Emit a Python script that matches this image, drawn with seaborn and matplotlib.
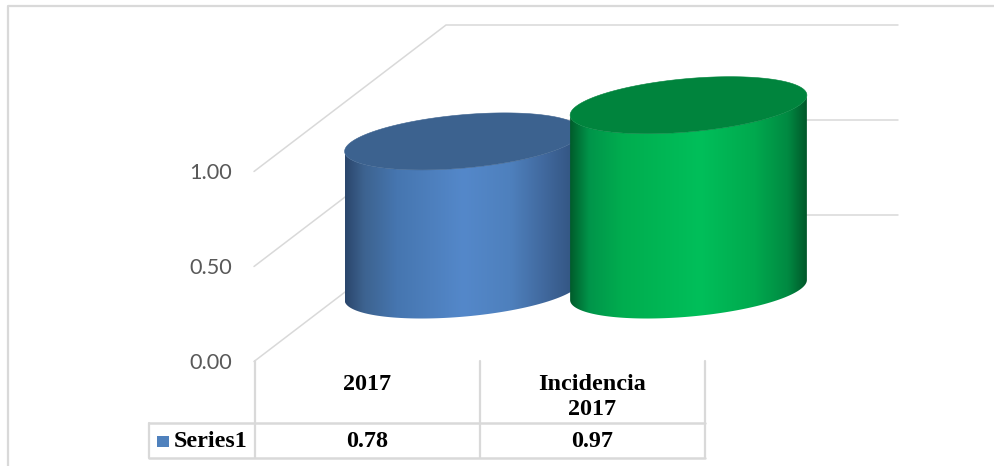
import numpy as np
import pandas as pd
import seaborn as sns
import matplotlib
matplotlib.use("Agg")
import matplotlib.pyplot as plt
from matplotlib.colors import LinearSegmentedColormap
from matplotlib.patches import Polygon

categories = ["2017", "Incidencia\n2017"]
values = [0.78, 0.97]
axis_ticks = [0.0, 0.5, 1.0]
series_name = "Series1"

W, H = 995, 466
GRID = "#d9d9d9"
TOPS = ["#3c628f", "#00843d"]
SERIES_BLUE = "#4f81bd"
ramps = [
    [(0, "#2a466c"), (0.08, "#3d6390"), (0.22, "#4676b0"), (0.5, "#5488ca"),
     (0.7, "#4e80bd"), (0.84, "#41699e"), (1, "#2f4f7a")],
    [(0, "#005c2b"), (0.08, "#00954a"), (0.22, "#00ad4f"), (0.55, "#00bf5a"),
     (0.78, "#00a94e"), (0.92, "#008a42"), (1, "#00582a")],
]

sns.set_theme(style="white")
df = pd.DataFrame({"cat": categories, "val": values})

fig = plt.figure(figsize=(W / 100, H / 100), dpi=100, facecolor="white")

# flat pixel layer for the walls and the data table
bg = fig.add_axes([0, 0, 1, 1], zorder=1)
bg.set_xlim(0, W)
bg.set_ylim(H, 0)
bg.axis("off")

# chart frame
bg.plot([8, 8, W], [H, 6, 6], color=GRID, lw=1.6, solid_capstyle="butt")

# walls
for t in axis_ticks:
    front = 361.5 - t * 190
    back = 215 - t * 190
    bg.plot([254, 446, 898], [front, back, back], color=GRID, lw=1.1, solid_joinstyle="miter")
    bg.text(211, front + 1.5, f"{t:.2f}", ha="center", va="center", color="#595959",
            fontsize=15.6, family="Lato")

# data table
col_x = [255, 480, 705]
for x in col_x:
    bg.plot([x, x], [361, 458], color=GRID, lw=1.6)
bg.plot([149, 705], [423, 423], color=GRID, lw=1.8)
bg.plot([149, 705], [458, 458], color=GRID, lw=1.8)
bg.plot([149, 149], [423, 458], color=GRID, lw=1.6)
bg.fill([157, 169, 169, 157], [436, 436, 447, 447], color=SERIES_BLUE, lw=0)
serif = dict(family="Liberation Serif", weight="bold", color="black", fontsize=17.4)
bg.text(174, 441.5, series_name, ha="left", va="center", **serif)
for i, (c, v) in enumerate(zip(categories, values)):
    cx = (col_x[i] + col_x[i + 1]) / 2
    bg.text(cx, 397 if "\n" in c else 384, c, ha="center", va="center", linespacing=1.3, **serif)
    bg.text(cx, 441.5, f"{v:.2f}", ha="center", va="center", **serif)

# bars, in data units: x=0 sits at pixel 463, x=1 at 688.5, y=0 at 290
ax = fig.add_axes([0, 0, 1, 1], zorder=2)
ax.patch.set_alpha(0)
sns.barplot(data=df, x="cat", y="val", hue="cat", palette=TOPS, width=1.05,
            legend=False, ax=ax)
x_unit, y_unit = 225.5, 190.5
xlim = (-463 / x_unit, (W - 463) / x_unit)
ylim = ((290 - H) / y_unit, 290 / y_unit)

tilt = 10 / y_unit
depth = 26.7 / y_unit
ts = np.linspace(0, 2 * np.pi, 181)

for i, bar in enumerate(list(ax.patches)[:len(values)]):
    bar.set_visible(False)
    x0 = bar.get_x()
    w = bar.get_width()
    h = bar.get_height()
    xc = x0 + w / 2

    def ring(level, t):
        return np.column_stack([xc + w / 2 * np.cos(t),
                                level + tilt * np.cos(t) + depth * np.sin(t)])

    front = np.linspace(np.pi, 2 * np.pi, 91)
    body = np.vstack([ring(0, front), ring(h, front[::-1])])
    clip = Polygon(body, closed=True, transform=ax.transData, fc="none", ec="none")
    ax.add_patch(clip)
    cmap = LinearSegmentedColormap.from_list(f"body{i}", ramps[i])
    im = ax.imshow(np.linspace(0, 1, 256).reshape(1, -1), cmap=cmap, aspect="auto",
                   extent=(x0, x0 + w, -0.3, h + 0.3), zorder=2 + i, interpolation="bilinear")
    im.set_clip_path(clip)
    ax.add_patch(Polygon(ring(h, ts), closed=True, fc=TOPS[i], ec=TOPS[i], lw=0.4, zorder=2 + i))

ax.set_xlim(*xlim)
ax.set_ylim(*ylim)
ax.axis("off")

fig.savefig("out.png", dpi=100, facecolor="white")
